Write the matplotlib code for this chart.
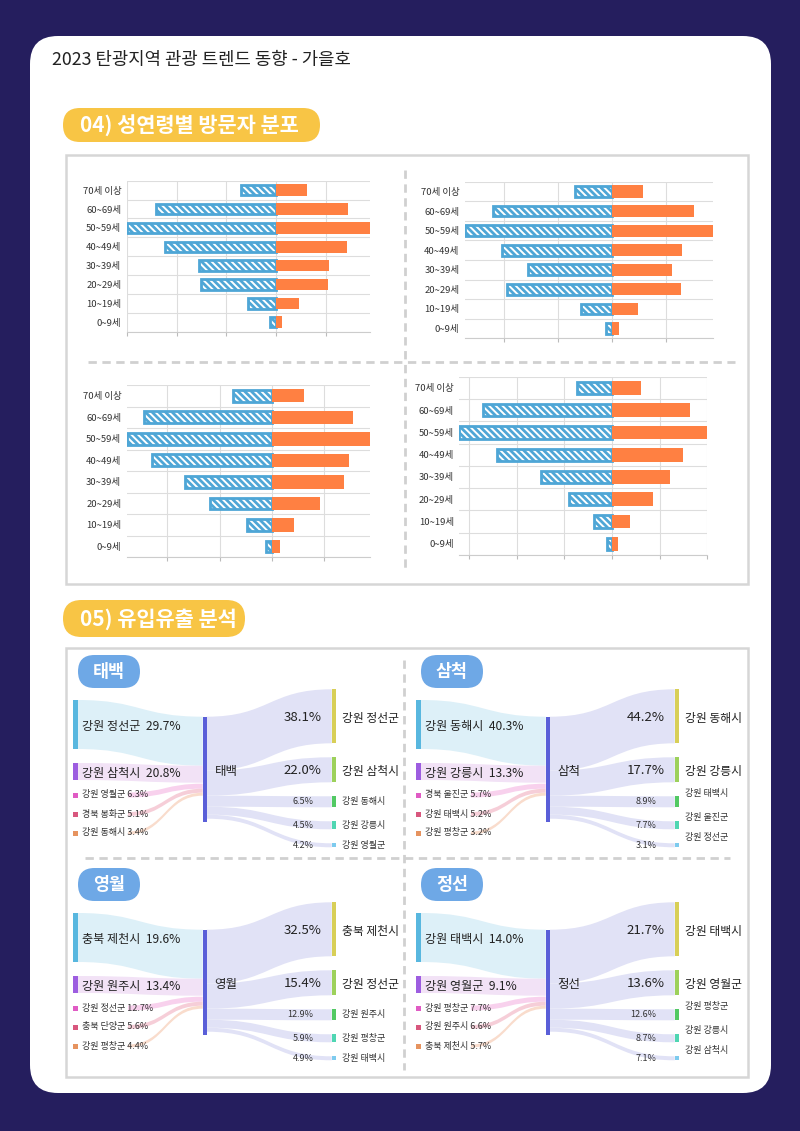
import matplotlib
matplotlib.use("Agg")
import matplotlib.pyplot as plt
import numpy as np
from matplotlib.patches import FancyBboxPatch, PathPatch, Rectangle
from matplotlib.path import Path

W, H = 800, 1131

# ---- 04) visitors by sex / age (% of visitors) ----
age_labels = ["70세 이상", "60~69세", "50~59세", "40~49세", "30~39세", "20~29세", "10~19세", "0~9세"]

taebaek_male = [3.5, 12.1, 15.0, 11.2, 7.7, 7.5, 2.8, 0.6]
taebaek_female = [3.1, 7.2, 9.4, 7.1, 5.3, 5.2, 2.3, 0.6]
samcheok_male = [3.4, 11.0, 13.6, 10.2, 7.8, 9.7, 2.9, 0.5]
samcheok_female = [2.9, 7.6, 9.4, 6.5, 5.6, 6.4, 2.4, 0.7]
yeongwol_male = [3.7, 12.2, 13.9, 11.5, 8.3, 5.9, 2.4, 0.6]
yeongwol_female = [3.1, 7.8, 9.4, 7.4, 6.9, 4.6, 2.1, 0.8]
jeongseon_male = [3.7, 13.5, 16.0, 12.1, 7.4, 4.5, 1.9, 0.5]
jeongseon_female = [3.0, 8.2, 10.0, 7.5, 6.1, 4.3, 1.9, 0.6]

# ---- 05) inflow / outflow ----
taebaek_in = ["강원 정선군", "강원 삼척시", "강원 영월군", "경북 봉화군", "강원 동해시"]
taebaek_in_pct = [29.7, 20.8, 6.3, 5.1, 3.4]
taebaek_out = ["강원 정선군", "강원 삼척시", "강원 동해시", "강원 강릉시", "강원 영월군"]
taebaek_out_pct = [38.1, 22.0, 6.5, 4.5, 4.2]

samcheok_in = ["강원 동해시", "강원 강릉시", "경북 울진군", "강원 태백시", "강원 평창군"]
samcheok_in_pct = [40.3, 13.3, 5.7, 5.2, 3.2]
samcheok_out = ["강원 동해시", "강원 강릉시", "강원 태백시", "강원 울진군", "강원 정선군"]
samcheok_out_pct = [44.2, 17.7, 8.9, 7.7, 3.1]

yeongwol_in = ["충북 제천시", "강원 원주시", "강원 정선군", "충북 단양군", "강원 평창군"]
yeongwol_in_pct = [19.6, 13.4, 12.7, 5.6, 4.4]
yeongwol_out = ["충북 제천시", "강원 정선군", "강원 원주시", "강원 평창군", "강원 태백시"]
yeongwol_out_pct = [32.5, 15.4, 12.9, 5.9, 4.9]

jeongseon_in = ["강원 태백시", "강원 영월군", "강원 평창군", "강원 원주시", "충북 제천시"]
jeongseon_in_pct = [14.0, 9.1, 7.7, 6.6, 5.7]
jeongseon_out = ["강원 태백시", "강원 영월군", "강원 평창군", "강원 강릉시", "강원 삼척시"]
jeongseon_out_pct = [21.7, 13.6, 12.6, 8.7, 7.1]

NAVY = "#251e5e"
YELLOW = "#f8c545"
TAG = "#6ea8e6"
BLUE = "#4ea6d6"
ORANGE = "#ff8042"
TEXT = "#222222"
GRID = "#dddddd"

plt.rcParams["font.family"] = ["Noto Sans CJK KR", "DejaVu Sans"]
plt.rcParams["hatch.linewidth"] = 2.0

fig = plt.figure(figsize=(8, 11.31), dpi=100, facecolor=NAVY)
ax = fig.add_axes([0, 0, 1, 1])
ax.set_xlim(0, W)
ax.set_ylim(H, 0)
ax.axis("off")

# card, title, section headers
ax.add_patch(FancyBboxPatch((30, 36), 741, 1057, boxstyle="round,pad=0,rounding_size=28",
                            fc="white", ec="none"))
ax.text(52, 60, "2023 탄광지역 관광 트렌드 동향 - 가을호", fontsize=12.8, color=TEXT, va="center")


def pill(x, y, w, h, text, color, size):
    ax.add_patch(FancyBboxPatch((x, y), w, h, boxstyle=f"round,pad=0,rounding_size={h / 2}",
                                fc=color, ec="none"))
    ax.text(x + 17, y + h / 2 + 1, text, fontsize=size, color="white", fontweight="bold", va="center")


pill(63, 108, 257, 34, "04) 성연령별 방문자 분포", YELLOW, 15)
pill(63, 600, 182, 37, "05) 유입유출 분석", YELLOW, 15)

for y0, y1 in [(155, 584), (648, 1077)]:
    ax.add_patch(Rectangle((66, y0), 682, y1 - y0, fc="none", ec="#d6d6d6", lw=1.8))

dash = (0, (3, 2))
ax.plot([405, 405], [170, 568], color="#d0d0d0", lw=2, ls=dash)
ax.plot([88, 735], [362, 362], color="#d0d0d0", lw=2, ls=dash)
ax.plot([404, 404], [660, 1070], color="#d0d0d0", lw=2, ls=dash)
ax.plot([85, 730], [858, 858], color="#d0d0d0", lw=2, ls=dash)


# ---- pyramids ----
def pyramid(box, male, female):
    x0, y0, x1, y1 = box
    pa = fig.add_axes([x0 / W, 1 - y1 / H, (x1 - x0) / W, (y1 - y0) / H])
    n = len(age_labels)
    ypos = np.arange(n)[::-1]
    pa.barh(ypos, [-v for v in male], height=0.55, color="white", edgecolor=BLUE,
            hatch="\\\\\\\\\\", lw=2, zorder=3)
    pa.barh(ypos, female, height=0.62, color=ORANGE, zorder=3)
    lo, hi = -max(male), max(female)
    pa.set_xlim(lo, hi)
    pa.set_ylim(-0.5, n - 0.5)
    pa.set_xticks([t for t in range(-20, 21, 5) if lo - 0.01 <= t <= hi + 0.01])
    pa.set_yticks(ypos, age_labels)
    pa.set_yticks(np.arange(-0.5, n, 1), minor=True)
    pa.grid(axis="x", color=GRID, lw=0.8, zorder=0)
    pa.grid(axis="y", which="minor", color=GRID, lw=0.8, zorder=0)
    pa.tick_params(axis="y", which="both", length=0, labelsize=6.8, pad=4, labelcolor="#333333")
    pa.tick_params(axis="x", length=3, color="#bbbbbb", labelbottom=False)
    for side in ["left", "top", "right"]:
        pa.spines[side].set_visible(False)
    pa.spines["bottom"].set_color("#cccccc")
    pa.set_facecolor("none")


pyramid((126.7, 180.7, 370, 331.7), taebaek_male, taebaek_female)
pyramid((465, 181.7, 713.3, 338.3), samcheok_male, samcheok_female)
pyramid((126.7, 385, 370, 557.3), yeongwol_male, yeongwol_female)
pyramid((459.3, 376.7, 707.3, 555), jeongseon_male, jeongseon_female)


# ---- sankey panels (node sizes follow the original template, by rank) ----
IN_COLORS = ["#58b7df", "#9d5de0", "#e05bc4", "#d8577e", "#e6935f"]
IN_FLOW = ["#ddf0f8", "#f2e2f6", "#f7c9ea", "#f5c6d2", "#f8d6c4"]
OUT_COLORS = ["#d8cf57", "#9dd15b", "#52c963", "#4fd6b2", "#7dcbee"]
OUT_FLOW = "#e1e2f6"
HUB = "#5a5fd8"
OUT_H = [54, 25, 11, 8, 4]
IN_H = [49, 17, 5, 4, 3]


def ribbon(xa, ya0, ya1, xb, yb0, yb1, color, alpha=1.0):
    xm = (xa + xb) / 2
    verts = [(xa, ya0), (xm, ya0), (xm, yb0), (xb, yb0),
             (xb, yb1), (xm, yb1), (xm, ya1), (xa, ya1), (xa, ya0)]
    codes = [Path.MOVETO, Path.CURVE4, Path.CURVE4, Path.CURVE4,
             Path.LINETO, Path.CURVE4, Path.CURVE4, Path.CURVE4, Path.CLOSEPOLY]
    ax.add_patch(PathPatch(Path(verts, codes), fc=color, ec="none", alpha=alpha, zorder=1))


def sankey(dx, dy, hub, in_names, in_pct, out_names, out_pct, shift):
    lx, hx, rx = 73 + dx, 202.7 + dx, 331.7 + dx
    hub_top = 716.7 + dy
    pill(78 + dx, 655 + dy, 62, 33, "", TAG, 11)
    ax.text(109 + dx, 672 + dy, hub, fontsize=12.5, color="white", fontweight="bold",
            ha="center", va="center")

    # inflows
    y_hub = hub_top
    y = 700 + dy
    for i, (name, v) in enumerate(zip(in_names, in_pct)):
        h = IN_H[i]
        if i < 2:
            ribbon(lx + 4.5, y, y + h, hx, y_hub, y_hub + h, IN_FLOW[i])
            ax.add_patch(Rectangle((lx, y), 4.5, h, fc=IN_COLORS[i], ec="none", zorder=3))
            ax.text(lx + 9, y + h / 2 + 2, f"{name}  {v}%", fontsize=8.7, color=TEXT,
                    va="center", zorder=4)
            y_hub += h
            y += h + 14
        else:
            cy = y + 1 + (i - 2) * 19
            ribbon(lx + 55, cy - h / 2, cy + h / 2, hx, y_hub + 1, y_hub + 1 + h, IN_FLOW[i], 0.85)
            ax.add_patch(Rectangle((lx, cy - 2.5), 5, 5, fc=IN_COLORS[i], ec="none", zorder=3))
            ax.text(lx + 9, cy, f"{name} {v}%", fontsize=6.5, color="#333333", va="center", zorder=4)
            y_hub += h

    # hub
    ax.add_patch(Rectangle((hx, hub_top), 4, 105, fc=HUB, ec="none", zorder=3))
    ax.text(hx + 12, hub_top + 55, hub, fontsize=9, color=TEXT, va="center", zorder=4)

    # outflows
    y_hub = hub_top
    y = 689.3 + dy
    for i, (name, v) in enumerate(zip(out_names, out_pct)):
        h = OUT_H[i]
        ribbon(hx + 4, y_hub, y_hub + h, rx, y, y + h, OUT_FLOW)
        ax.add_patch(Rectangle((rx, y), 4.5, h, fc=OUT_COLORS[i], ec="none", zorder=3))
        cy = y + h / 2
        if i < 2:
            ax.text(rx - 10, cy + 1, f"{v}%", fontsize=9.5, color=TEXT, ha="right", va="center", zorder=4)
            ax.text(rx + 10, cy + 2, name, fontsize=8.5, color=TEXT, va="center", zorder=4)
        else:
            ax.text(rx - 18, cy, f"{v}%", fontsize=6.5, color="#333333", ha="right", va="center", zorder=4)
            ax.text(rx + 10, cy + shift, name, fontsize=6.5, color="#333333", va="center", zorder=4)
        y_hub += h
        y += h + 14


sankey(0, 0, "태백", taebaek_in, taebaek_in_pct, taebaek_out, taebaek_out_pct, 0)
sankey(343, 0, "삼척", samcheok_in, samcheok_in_pct, samcheok_out, samcheok_out_pct, -8)
sankey(0, 213, "영월", yeongwol_in, yeongwol_in_pct, yeongwol_out, yeongwol_out_pct, 0)
sankey(343, 213, "정선", jeongseon_in, jeongseon_in_pct, jeongseon_out, jeongseon_out_pct, -8)

fig.savefig("out.png", dpi=100, facecolor=NAVY)
